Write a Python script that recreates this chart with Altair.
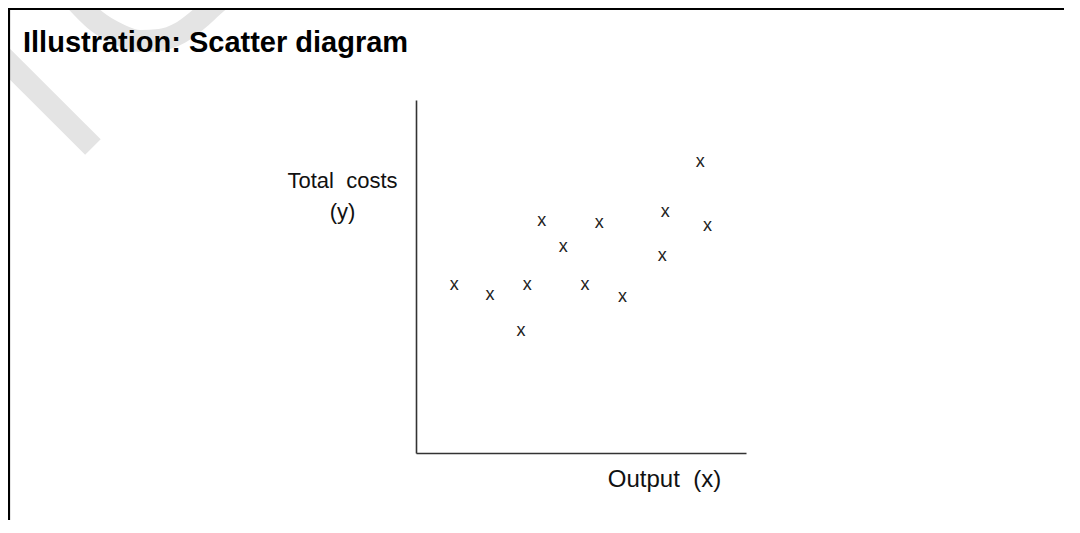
import altair as alt
import pandas as pd

# ---- chart content ----
title_text = "Illustration: Scatter diagram"
x_label = "Output\u00a0\u00a0(x)"
y_label = ["Total\u00a0\u00a0costs", "(y)"]
marker = "x"

# scatter points (output, total costs) on a 0-100 scale
output_x = [11.6, 22.4, 33.7, 31.8, 38.1, 44.6, 51.2, 55.5, 62.6, 74.6, 75.5, 86.1, 88.3]
total_costs_y = [47.6, 44.7, 47.6, 34.6, 65.6, 58.3, 47.6, 65.2, 44.1, 55.8, 68.1, 82.4, 64.3]

# faint watermark strokes (same scale, outside the plot domain)
wm_part = ["stem", "stem", "arc", "arc", "arc", "arc", "arc", "arc", "arc", "arc", "arc"]
wm_x = [-126.1, -97.9, -103.3, -97.3, -90.3, -83.6, -77.6, -71.5, -66.1, -61.5, -59.4]
wm_y = [113.0, 86.7, 128.3, 122.7, 118.7, 116.7, 117.0, 119.0, 122.7, 126.6, 128.3]

FONT = "Liberation Sans"

pts = pd.DataFrame({"output": output_x, "cost": total_costs_y, "m": [marker] * len(output_x)})
wm = pd.DataFrame({"part": wm_part, "output": wm_x, "cost": wm_y, "i": list(range(len(wm_x)))})
ttl = pd.DataFrame({"t": [title_text]})
frame = pd.DataFrame({"k": ["frame"]})

xs = alt.Scale(domain=[0, 100], nice=False, zero=False)
ys = alt.Scale(domain=[0, 100], nice=False, zero=False)

x_axis = alt.Axis(
    labels=False, ticks=False, grid=False,
    domainColor="#333333", domainWidth=1.6,
    title=x_label, titleFont=FONT, titleFontSize=24, titleFontWeight="normal",
    titleColor="#111111", titleX=248, titleY=33,
    titleAlign="center", titleBaseline="alphabetic",
)
y_axis = alt.Axis(
    labels=False, ticks=False, grid=False,
    domainColor="#333333", domainWidth=1.6,
    title=y_label, titleFont=FONT, titleFontSize=22, titleFontWeight="normal",
    titleColor="#111111", titleAngle=0, titleX=-74, titleY=87,
    titleAlign="center", titleBaseline="alphabetic", titleLineHeight=31,
)

watermark = alt.Chart(wm).mark_line(
    color="#e4e4e4", strokeWidth=22, strokeCap="butt", interpolate="monotone"
).encode(
    x=alt.X("output:Q", scale=xs, axis=x_axis),
    y=alt.Y("cost:Q", scale=ys, axis=y_axis),
    detail="part:N",
    order="i:Q",
)

top_border = alt.Chart(frame).mark_rule(color="#000000", strokeWidth=2.2).encode(
    x=alt.value(-410), x2=alt.value(660), y=alt.value(-91)
)
left_border = alt.Chart(frame).mark_rule(color="#000000", strokeWidth=2.2).encode(
    x=alt.value(-407), y=alt.value(-93), y2=alt.value(430)
)

title = alt.Chart(ttl).mark_text(
    font=FONT, fontSize=29, fontWeight="bold", color="#000000",
    align="left", baseline="alphabetic"
).encode(
    x=alt.value(-393), y=alt.value(-48), text="t:N"
)

points = alt.Chart(pts).mark_text(
    font=FONT, fontSize=18, color="#222222", baseline="alphabetic", align="center", dy=4.7
).encode(
    x=alt.X("output:Q", scale=xs, axis=x_axis),
    y=alt.Y("cost:Q", scale=ys, axis=y_axis),
    text="m:N",
)

chart = alt.layer(watermark, top_border, left_border, title, points).properties(
    width=330,
    height=353,
    padding={"left": 408, "top": 92, "right": 318, "bottom": 67},
    autosize=alt.AutoSizeParams(type="none"),
    background="#ffffff",
).configure_view(strokeWidth=0)

chart.save("out.html", embed_options={"renderer": "svg", "actions": False})
